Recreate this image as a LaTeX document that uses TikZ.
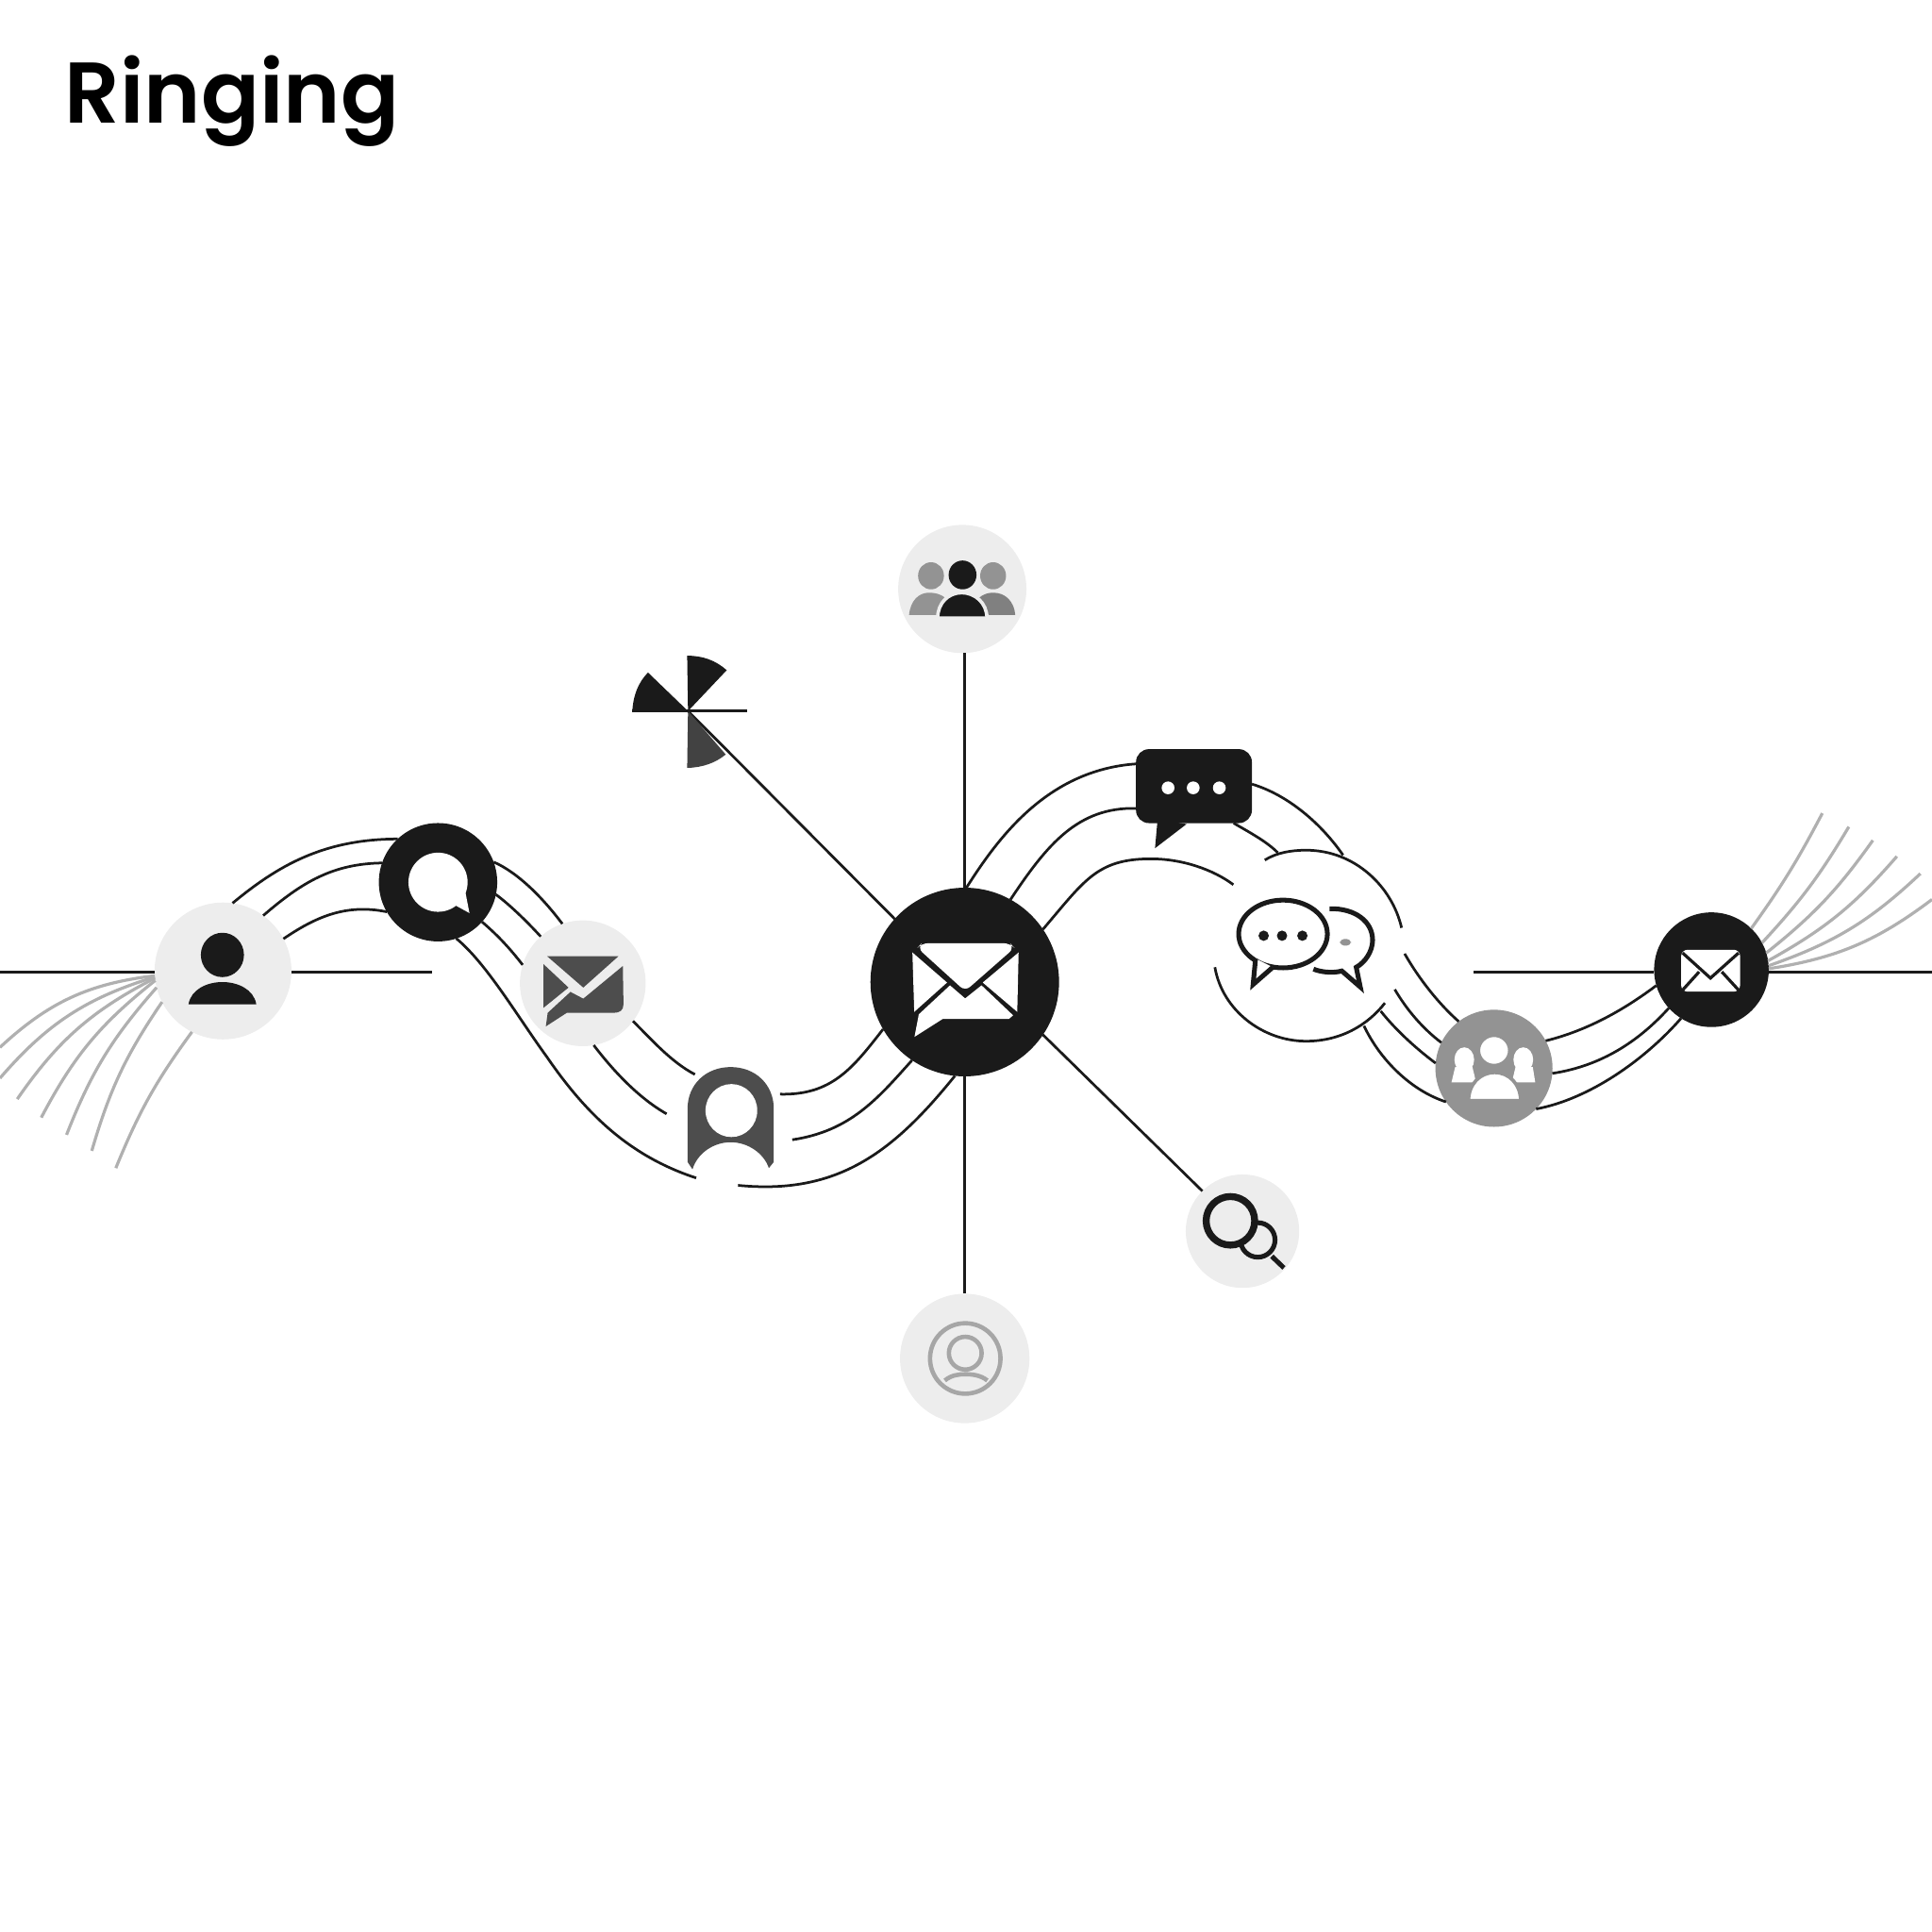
\documentclass[tikz,border=0pt]{standalone}
\usepackage{fontspec}
\setmainfont{Poppins}[BoldFont={Poppins SemiBold}]
\definecolor{inkcolor}{HTML}{1A1A1A}
\definecolor{palecolor}{HTML}{EDEDED}
\definecolor{slatecolor}{HTML}{4D4D4D}
\definecolor{midcolor}{HTML}{939393}
\definecolor{fancolor}{HTML}{B0B0B0}
\tikzset{
  hub/.style={circle, fill=#1, draw=none, inner sep=0pt, outer sep=0pt},
  link/.style={draw=inkcolor, line width=0.6pt},
  axle/.style={draw=inkcolor, line width=0.7pt},
  fan/.style={draw=fancolor, line width=0.7pt},
}
\begin{document}
\begin{tikzpicture}[x=0.01cm, y=-0.01cm]
    \useasboundingbox (0,0) rectangle (1568,1568);

    % Title
    \node[anchor=base west, inner sep=0pt, font=\fontsize{19.9}{24}\selectfont\bfseries, text=black] (title) at (52,100) {Ringing};

    % Nodes
    \node[hub=palecolor, minimum size=1.11cm] (person) at (181,788) {};
    \node[hub=inkcolor, minimum size=0.96cm] (ring) at (355.5,716) {};
    \node[hub=palecolor, minimum size=1.02cm] (maillight) at (473,798) {};
    \node[hub=inkcolor, minimum size=1.53cm] (central) at (783,797) {};
    \node[hub=palecolor, minimum size=1.04cm] (team) at (781,478) {};
    \node[hub=palecolor, minimum size=1.05cm] (profile) at (783,1102.5) {};
    \node[hub=palecolor, minimum size=0.92cm] (lens) at (1008.4,999.2) {};
    \node[hub=midcolor, minimum size=0.95cm] (group) at (1212.5,867) {};
    \node[hub=inkcolor, minimum size=0.93cm] (mailright) at (1389,787) {};
    \node[inner sep=0pt, outer sep=0pt, minimum width=0.94cm, minimum height=0.6cm, rounded corners=3pt, fill=inkcolor] (bubble) at (969,638) {};
    \coordinate (pin) at (558.4,577.1);

    % Free ends
    \coordinate (axleleft) at (0,789);
    \coordinate (axlemid) at (351,789);
    \coordinate (axlestart) at (1196,789);
    \coordinate (axleright) at (1568,789);
    \coordinate (tagtl) at (564,872);
    \coordinate (tagl) at (541,904);
    \coordinate (tagbl) at (565,956);
    \coordinate (tagr) at (633,888);
    \coordinate (tagbr) at (643,925);
    \coordinate (tagb) at (599,962);
    \coordinate (archend) at (1001,718);
    \coordinate (cloudtop) at (1026.5,698);
    \coordinate (cloudtopend) at (1137.5,753);
    \coordinate (cloudlow) at (986,785);
    \coordinate (cloudlowend) at (1124,814);
    \coordinate (cloudjoin) at (1037,692);
    \coordinate (cloudjointwo) at (1090,694);
    \coordinate (cloudout1) at (1140,774);
    \coordinate (cloudout2) at (1132,803);
    \coordinate (cloudout3) at (1120.6,820.6);
    \coordinate (cloudout4) at (1107,832.6);

    % Straight lines
    \draw[axle] (axleleft) -- (person.west |- axleleft);
    \draw[axle] (person.east |- axlemid) -- (axlemid);
    \draw[axle] (axlestart) -- (mailright.west |- axlestart);
    \draw[axle] (mailright.east |- axleright) -- (axleright);
    \draw[link] (central.north) -- (central.north |- team.south);
    \draw[link] (central.south) -- (profile.north);
    \draw[link] (pin) -- (central.138);
    \draw[link] (central.-34) -- (lens.135);

    % Gray fans
    \foreach \a/\x/\y/\b in {184/0/850/18, 185/0/875/16, 186/14/892/14, 188/33.5/907/12, 194/54/921/10, 207/74.5/934/9, 243/94/948/7} {
        \coordinate (fanend) at (\x,\y);
        \draw[fan] (person.\a) to[bend right=\b] (fanend);
    }
    \foreach \a/\x/\y/\b in {46/1479/660/4, 28/1500.5/671/6, 17/1520/682/8, 9/1539.5/695/10, 4/1558.6/709/12, 1/1568/730/14} {
        \coordinate (fanend) at (\x,\y);
        \draw[fan] (mailright.\a) to[bend right=\b] (fanend);
    }

    % Curved links
    \draw[link] (person.82) .. controls (225,703) and (262,681) .. (ring.133);
    \draw[link] (person.54) .. controls (245,716) and (270,701) .. (ring.161);
    \draw[link] (person.28) .. controls (255,745) and (280,733) .. (ring.210);
    \draw[link] (ring.20) .. controls (420,708) and (440,728) .. (maillight.109);
    \draw[link] (ring.-12) .. controls (412,733) and (425,745) .. (maillight.132);
    \draw[link] (ring.-42) .. controls (405,760) and (414,770) .. (maillight.163);
    \draw[link] (ring.-72) .. controls (395,782) and (420,825) .. (444,858) .. controls (475,903) and (510,938) .. (tagbl);
    \draw[link] (maillight.-37) .. controls (530,845) and (545,862) .. (tagtl);
    \draw[link] (maillight.-80) .. controls (500,872) and (520,892) .. (tagl);
    \draw[link] (tagr) .. controls (675,889) and (692,867) .. (central.210);
    \draw[link] (tagbr) .. controls (690,918) and (712,892) .. (central.236);
    \draw[link] (tagb) .. controls (680,970) and (725,935) .. (central.264);
    \draw[link] (central.89) .. controls (810,680) and (850,625) .. (bubble.159);
    \draw[link] (central.61) .. controls (850,685) and (875,655) .. (bubble.201);
    \draw[link] (central.34) .. controls (880,715) and (890,697) .. (934,697) .. controls (960,697) and (985,706) .. (archend);
    \draw[link] (bubble.2) .. controls (1045,645) and (1072,668) .. (cloudjointwo);
    \draw[link] (bubble.-43) .. controls (1015,676) and (1028,683) .. (cloudjoin);
    \draw[link] (cloudtop) .. controls (1036,692) and (1048,690) .. (1060,690) .. controls (1100,690) and (1130,720) .. (cloudtopend);
    \draw[link] (cloudlow) .. controls (992,820) and (1025,845) .. (1060,845) .. controls (1088,845) and (1110,832) .. (cloudlowend);
    \draw[link] (cloudout1) .. controls (1152,795) and (1168,815) .. (group.127);
    \draw[link] (cloudout2) .. controls (1142,820) and (1155,835) .. (group.154);
    \draw[link] (cloudout3) .. controls (1132,835) and (1148,850) .. (group.175);
    \draw[link] (cloudout4) .. controls (1120,860) and (1145,885) .. (group.215);
    \draw[link] (group.28) .. controls (1290,836) and (1320,818) .. (mailright.196);
    \draw[link] (group.-5) .. controls (1300,865) and (1330,845) .. (mailright.222);
    \draw[link] (group.-44) .. controls (1290,892) and (1335,860) .. (mailright.238);

    % Person icon
    \fill[inkcolor] (180.5,775) ellipse (17.5 and 18);
    \fill[inkcolor] (153,815) .. controls (155,803) and (168,797) .. (180.5,797) .. controls (193,797) and (206,803) .. (208,815) -- cycle;

    % Ring icon
    \fill[white] (355.5,716) ellipse (24 and 24);
    \fill[white] (377.7,724) -- (381,741) -- (370,735) -- cycle;

    % Light envelope
    \fill[slatecolor] (444,776) -- (502,776) -- (473.4,801.5) -- cycle;
    \fill[slatecolor] (441,782.4) -- (461.4,801.5) -- (441,818) -- cycle;
    \fill[slatecolor] (505.5,784) -- (506,815) .. controls (506,820) and (503,822) .. (498,822) -- (460,822) -- (443,833) -- (444.5,822) -- (463,805) -- (473.4,810.5) -- cycle;

    % Pin tag
    \fill[slatecolor] (558,943) -- (558,900) .. controls (558,880) and (573,866) .. (593,866) .. controls (613,866) and (628,880) .. (628,900) -- (628,943) -- (624,948) .. controls (620,936) and (607,927) .. (593,927) .. controls (579,927) and (566,936) .. (562,949) -- cycle;
    \fill[white] (593.6,901.3) ellipse (21 and 21.5);

    % Central envelope
    \fill[white, rounded corners=1.5pt] (744.6,769.3) -- (748,765.5) -- (819.8,765.5) -- (823.3,769.3) -- (783.3,804.4) -- cycle;
    \fill[white] (740.5,773) -- (768.6,797.4) -- (742,821.2) -- cycle;
    \fill[white] (826.7,773) -- (797.6,797.4) -- (825.6,821.2) -- cycle;
    \fill[white] (771,799.7) -- (783.3,810.3) -- (796.6,799.7) -- (822.2,824) -- (818.8,827) -- (765,827) -- (742.2,841.5) -- (745.7,823.2) -- cycle;

    % Team icon
    \fill[midcolor] (755.6,467.3) ellipse (10.5 and 11);
    \fill[midcolor] (806,467.3) ellipse (10.5 and 11);
    \fill[midcolor] (737.8,499) .. controls (739,487) and (746,481) .. (754,481) .. controls (764,481) and (772,486) .. (775,499) -- cycle;
    \fill[gray] (787,499) .. controls (790,486) and (798,481) .. (806,481) .. controls (816,481) and (823,488) .. (824,499) -- cycle;
    \fill[inkcolor] (781.2,466.6) ellipse (11.3 and 11.7);
    \filldraw[fill=inkcolor, draw=palecolor, line width=0.8pt] (761,501.7) .. controls (761,489) and (770,481) .. (780.5,481) .. controls (791,481) and (801,489) .. (801,501.7) -- cycle;

    % Pinwheel
    \fill[inkcolor] (pin) -- (557.7,532.2) .. controls (570,532) and (581,536) .. (589.8,543.9) -- cycle;
    \fill[inkcolor] (pin) -- (513.2,577) .. controls (514,564) and (518,554) .. (525.9,545.8) -- cycle;
    \fill[slatecolor!85!black] (pin) -- (589,612.3) .. controls (581,619) and (570,623) .. (557.7,623.2) -- cycle;
    \draw[link] (513.2,577) -- (606.4,577);

    % Dark bubble
    \fill[inkcolor] (939.5,665) -- (937.4,688.4) -- (963,668.8) -- cycle;
    \foreach \x in {948,968.4,989.6}
        \fill[white] (\x,639.4) circle (5.2);

    % Chat icons
    \draw[inkcolor, line width=1.1pt] (1079,737.5) .. controls (1100,737) and (1114,748) .. (1114,763) .. controls (1114,772) and (1108,781) .. (1100.7,785) -- (1104,801) -- (1089,788) .. controls (1082,790) and (1072,789) .. (1066,786.5);
    \filldraw[fill=white, draw=inkcolor, line width=1.1pt] (1041.3,758) ellipse (36 and 27.5);
    \filldraw[fill=white, draw=inkcolor, line width=1.1pt] (1019,778) -- (1017,799) -- (1033,785);
    \foreach \x in {1025.6,1040.5,1057}
        \fill[inkcolor] (\x,759.4) circle (4.2);
    \fill[midcolor, rounded corners=1pt] (1087.5,762) rectangle (1096.5,767.5);

    % Lens icon
    \draw[inkcolor, line width=1.1pt] (1020.8,1006.3) circle (14);
    \draw[inkcolor, line width=1.1pt] (1032.2,1019.6) -- (1042,1029);
    \filldraw[fill=palecolor, draw=inkcolor, line width=1.6pt] (998.6,990.8) circle (19.7);

    % Profile icon
    \begin{scope}[draw=gray!70, line width=1pt]
        \draw (783.4,1102.5) circle (28.6);
        \draw (783.4,1098.2) circle (13.3);
        \draw (766.8,1120.4) .. controls (772,1116) and (778,1115.3) .. (783.4,1115.3) .. controls (789,1115.3) and (796,1116) .. (801.3,1120.4);
    \end{scope}

    % Group icon
    \fill[white] (1188.4,860) ellipse (8 and 10);
    \fill[white] (1236.3,860) ellipse (8 and 10);
    \fill[white] (1178,878.5) -- (1181,866) -- (1195,866) -- (1198,878.5) -- cycle;
    \fill[white] (1227,878.5) -- (1230,866) -- (1244,866) -- (1246,878.5) -- cycle;
    \filldraw[fill=white, draw=midcolor, line width=0.8pt] (1212.6,852.5) ellipse (12.7 and 12.3);
    \filldraw[fill=white, draw=midcolor, line width=0.8pt] (1191.8,893.3) .. controls (1192,880) and (1201,870.4) .. (1213,870.4) .. controls (1225,870.4) and (1234,880) .. (1234.2,893.3) -- cycle;

    % Right envelope
    \fill[white, rounded corners=1.5pt] (1364.4,770.8) rectangle (1412.3,804.8);
    \draw[inkcolor, line width=0.7pt] (1365.6,773.4) -- (1388.2,793.8) -- (1411,773.4);
    \draw[inkcolor, line width=0.7pt] (1379,788.7) -- (1365.6,803.5);
    \draw[inkcolor, line width=0.7pt] (1397.4,788.7) -- (1411,803.5);
\end{tikzpicture}
\end{document}
